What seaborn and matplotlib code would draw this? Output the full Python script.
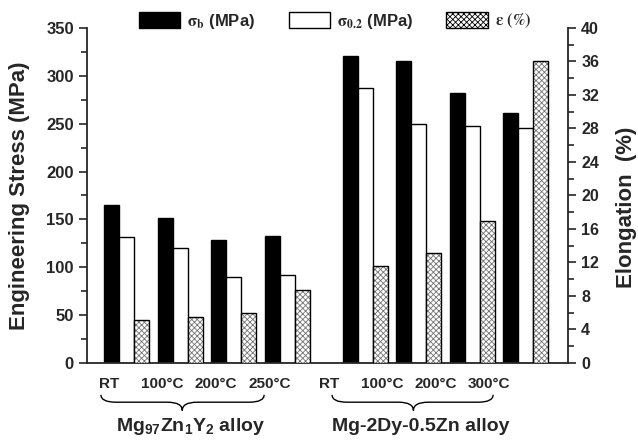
import numpy as np
import pandas as pd
import matplotlib
matplotlib.use('Agg')
import matplotlib.pyplot as plt
import seaborn as sns
from matplotlib.patches import Patch, PathPatch
from matplotlib.path import Path
from matplotlib.ticker import MultipleLocator
import matplotlib.transforms as mtransforms

# data
temps_1 = ['RT', '100°C', '200°C', '250°C']
temps_2 = ['RT', '100°C', '200°C', '300°C']
sigma_b_1 = [165, 152, 128, 133]
sigma_02_1 = [132, 120, 90, 92]
elong_1 = [5.1, 5.5, 6.0, 8.7]
sigma_b_2 = [321, 316, 282, 261]
sigma_02_2 = [287, 250, 248, 245]
elong_2 = [11.6, 13.1, 17.0, 36.0]
alloy_labels = [r'Mg$_{97}$Zn$_{1}$Y$_{2}$ alloy', 'Mg-2Dy-0.5Zn alloy']

# layout
pos_1 = np.arange(4)
pos_2 = np.arange(4) + 4.46
bar_w = 0.28

sns.set_style('ticks')
plt.rcParams['font.family'] = ['Liberation Sans', 'DejaVu Sans']
plt.rcParams['font.weight'] = 'bold'
plt.rcParams['mathtext.fontset'] = 'custom'
plt.rcParams['mathtext.rm'] = 'Liberation Sans:bold'
plt.rcParams['mathtext.it'] = 'Liberation Sans:bold'
plt.rcParams['mathtext.bf'] = 'Liberation Sans:bold'
plt.rcParams['hatch.linewidth'] = 0.6

pos = np.concatenate([pos_1, pos_2])
df = pd.DataFrame({
    'pos': pos,
    'sigma_b': sigma_b_1 + sigma_b_2,
    'sigma_02': sigma_02_1 + sigma_02_2,
    'elong': elong_1 + elong_2,
})

fig = plt.figure(figsize=(6.38, 4.40), dpi=100)
ax = fig.add_axes([0.1364, 0.175, 0.7539, 0.7614])
ax2 = ax.twinx()

sns.barplot(x=df['pos'] - bar_w, y=df['sigma_b'], native_scale=True, ax=ax,
            width=bar_w, color='black', saturation=1, edgecolor='black',
            linewidth=1, errorbar=None)
sns.barplot(x=df['pos'], y=df['sigma_02'], native_scale=True, ax=ax,
            width=bar_w, color='white', saturation=1, edgecolor='black',
            linewidth=1, errorbar=None)
# hatched fill in grey, then black outline on top
sns.barplot(x=df['pos'] + bar_w, y=df['elong'], native_scale=True, ax=ax2,
            width=bar_w, color='white', saturation=1, edgecolor='0.45',
            linewidth=0, hatch='xxxxxx', errorbar=None)
sns.barplot(x=df['pos'] + bar_w, y=df['elong'], native_scale=True, ax=ax2,
            width=bar_w, color='black', saturation=1, fill=False,
            linewidth=1, errorbar=None)

ax.set_xlim(-0.74, 8.25)
ax.set_ylim(0, 350)
ax2.set_ylim(0, 40)

ax.yaxis.set_major_locator(MultipleLocator(50))
ax.yaxis.set_minor_locator(MultipleLocator(25))
ax2.yaxis.set_major_locator(MultipleLocator(4))
ax2.yaxis.set_minor_locator(MultipleLocator(2))

tick_pos = list(pos_1 - 0.33) + list(pos_2 - 0.68)
ax.set_xticks(tick_pos)
ax.set_xticklabels(temps_1 + temps_2, fontsize=11, fontweight='bold')
ax.tick_params(axis='x', length=0, pad=10)
ax.tick_params(axis='y', which='major', length=6, width=1.2, labelsize=12)
ax.tick_params(axis='y', which='minor', length=4, width=1.2)
ax2.tick_params(axis='y', which='major', length=6, width=1.2, labelsize=11.5)
ax2.tick_params(axis='y', which='minor', length=4, width=1.2)

for a in (ax, ax2):
    a.spines['top'].set_visible(False)
    for s in ('left', 'right', 'bottom'):
        a.spines[s].set_linewidth(1.3)
ax.spines['right'].set_visible(False)
ax2.spines['left'].set_visible(False)
ax2.spines['bottom'].set_visible(False)

ax.set_xlabel('')
ax.set_ylabel('Engineering Stress (MPa)', fontsize=16, fontweight='bold', labelpad=12)
ax2.set_ylabel('Elongation  (%)', fontsize=16, fontweight='bold', labelpad=12)
ax2.yaxis.label.set_y(0.465)

# curly braces under the temperature labels
trans = mtransforms.blended_transform_factory(ax.transData, ax.transAxes)
braces = [(-0.48, 2.57, 1.04), (3.84, 6.85, 5.36)]
y_top, y_mid, y_bot = -0.095, -0.117, -0.142
d = 0.28
for (x0, x1, xt), lab in zip(braces, alloy_labels):
    verts = [(x0, y_top), (x0, y_mid), (x0 + d, y_mid),
             (xt - d, y_mid), (xt, y_mid), (xt, y_bot),
             (xt, y_mid), (xt + d, y_mid),
             (x1 - d, y_mid), (x1, y_mid), (x1, y_top)]
    codes = [Path.MOVETO, Path.CURVE3, Path.CURVE3,
             Path.LINETO, Path.CURVE3, Path.CURVE3,
             Path.CURVE3, Path.CURVE3,
             Path.LINETO, Path.CURVE3, Path.CURVE3]
    ax.add_patch(PathPatch(Path(verts, codes), transform=trans, fill=False,
                           lw=1.0, color='black', clip_on=False))
    ax.text((x0 + x1) / 2 + 0.15, -0.19, lab, transform=trans, ha='center',
            va='center', fontsize=14, fontweight='bold')

handles = [Patch(facecolor='black', edgecolor='black'),
           Patch(facecolor='white', edgecolor='black'),
           Patch(facecolor='white', edgecolor='black', hatch='xxxxxx')]
labels = [r'$\mathrm{\sigma_b}$ (MPa)', r'$\mathrm{\sigma_{0.2}}$ (MPa)',
          r'$\mathrm{\varepsilon\ (\%)}$']
fig.legend(handles, labels, loc='center', bbox_to_anchor=(0.525, 0.952), ncol=3,
           frameon=False, handlelength=2.5, handleheight=1.1, columnspacing=2.0,
           handletextpad=0.4,
           prop=dict(size=12, weight='bold', math_fontfamily='stix'))

fig.savefig('out.png', dpi=100)
